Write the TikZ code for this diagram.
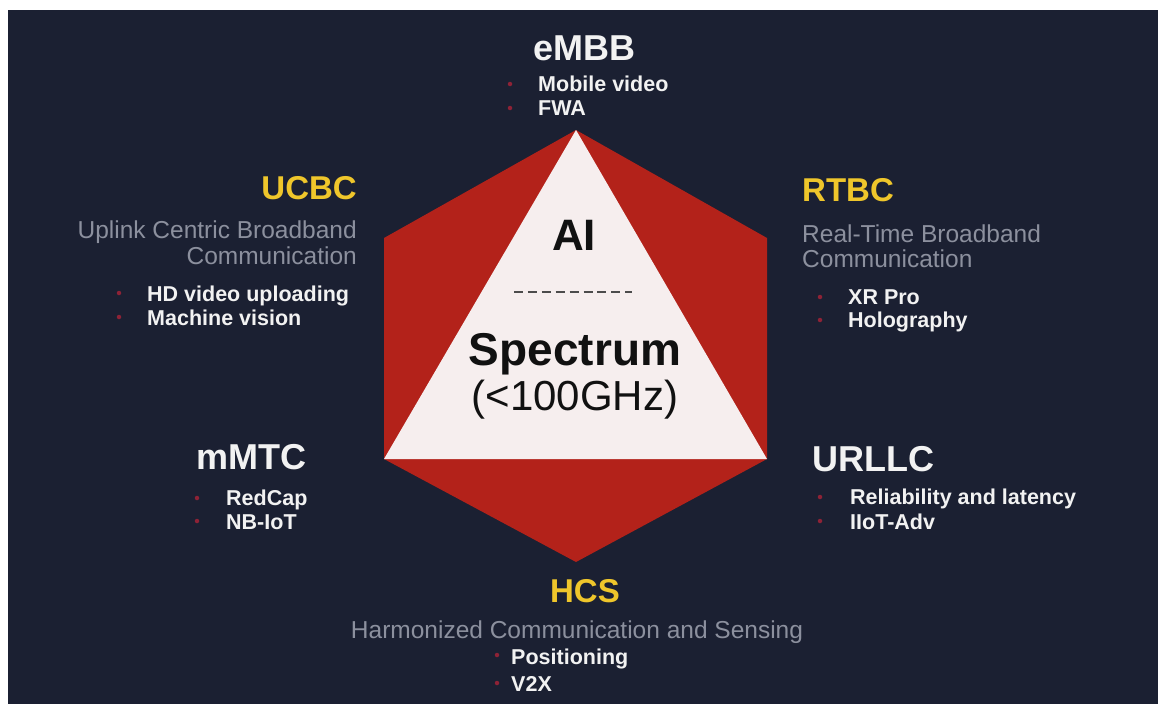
\documentclass[tikz,border=0pt]{standalone}
\usepackage{fontspec}
\setmainfont{Liberation Sans}
\definecolor{bgnavy}{HTML}{1B2032}
\definecolor{hexred}{HTML}{B3221A}
\definecolor{trifill}{HTML}{F6EEEE}
\definecolor{accentyellow}{HTML}{EFC62B}
\definecolor{subgray}{HTML}{8C909E}
\definecolor{itemwhite}{HTML}{F2F2F2}
\definecolor{dotred}{HTML}{8E2236}
\definecolor{inktext}{HTML}{111111}
\tikzset{
  ytitle/.style={font=\bfseries\fontsize{33}{36}\selectfont, inner sep=0, text=accentyellow},
  wtitle/.style={font=\bfseries\fontsize{36}{38}\selectfont, inner sep=0, text=itemwhite},
  subline/.style={font=\fontsize{24.5}{26}\selectfont, text=subgray, inner sep=0},
  itemtext/.style={font=\bfseries\fontsize{21.5}{23}\selectfont, text=itemwhite, inner sep=0, anchor=base west},
  bulletdot/.style={circle, fill=dotred, minimum size=4.5pt, inner sep=0},
  coretext/.style={text=inktext, inner sep=0, anchor=base},
}
\begin{document}
\begin{tikzpicture}[x=1pt, y=-1pt]
  % page and dark panel
  \useasboundingbox (0,0) rectangle (1158,704);
  \fill[white] (0,0) rectangle (1158,704);
  \fill[bgnavy] (8,10) rectangle (1158,704);

  % hexagon corners
  \coordinate (hT) at (576,130);
  \coordinate (hUR) at (767,238);
  \coordinate (hLR) at (767,459);
  \coordinate (hB) at (576,562);
  \coordinate (hLL) at (384,459);
  \coordinate (hUL) at (384,238);
  \fill[hexred] (hT) -- (hUR) -- (hLR) -- (hB) -- (hLL) -- (hUL) -- cycle;

  % inner triangle
  \fill[trifill] (hT) -- (hLR) -- (hLL) -- cycle;

  % triangle contents
  \node[coretext, font=\bfseries\fontsize{44}{46}\selectfont] (ai) at (574,250) {AI};
  \coordinate (dashL) at (514,292);
  \coordinate (dashR) at (632,292);
  \draw[line width=1.4pt, color=inktext!75, dash pattern=on 9pt off 4.9pt] (dashL) -- (dashR);
  \node[coretext, font=\bfseries\fontsize{46}{48}\selectfont] (spec) at (575,365) {Spectrum};
  \node[coretext, font=\fontsize{42}{44}\selectfont] (ghz) at (575,410) {(<100GHz)};

  % eMBB
  \node[wtitle, anchor=base] (embb) at (584,60) {eMBB};
  \node[bulletdot] (e1d) at (510,84) {};
  \node[itemtext] (e1) at (538,91) {Mobile video};
  \node[bulletdot] (e2d) at (510,108) {};
  \node[itemtext] (e2) at (538,115) {FWA};

  % UCBC
  \node[ytitle, anchor=base east] (ucbc) at (357,199) {UCBC};
  \node[subline, anchor=base east] (ucbc1) at (357,238) {Uplink Centric Broadband};
  \node[subline, anchor=base east] (ucbc2) at (357,264) {Communication};
  \node[bulletdot] (u1d) at (119,293) {};
  \node[itemtext] (u1) at (147,301) {HD video uploading};
  \node[bulletdot] (u2d) at (119,317) {};
  \node[itemtext] (u2) at (147,325) {Machine vision};

  % RTBC
  \node[ytitle, anchor=base west] (rtbc) at (802,201) {RTBC};
  \node[subline, anchor=base west] (rtbc1) at (802,242) {Real-Time Broadband};
  \node[subline, anchor=base west] (rtbc2) at (802,267) {Communication};
  \node[bulletdot] (r1d) at (820,297) {};
  \node[itemtext] (r1) at (848,304) {XR Pro};
  \node[bulletdot] (r2d) at (820,320) {};
  \node[itemtext] (r2) at (848,327) {Holography};

  % mMTC
  \node[wtitle, anchor=base west] (mmtc) at (196,469) {mMTC};
  \node[bulletdot] (m1d) at (197,498) {};
  \node[itemtext] (m1) at (226,505) {RedCap};
  \node[bulletdot] (m2d) at (197,521) {};
  \node[itemtext] (m2) at (226,529) {NB-IoT};

  % URLLC
  \node[wtitle, anchor=base west] (urllc) at (812,471) {URLLC};
  \node[bulletdot] (l1d) at (820,497) {};
  \node[itemtext] (l1) at (850,504) {Reliability and latency};
  \node[bulletdot] (l2d) at (820,521) {};
  \node[itemtext] (l2) at (850,529) {IIoT-Adv};

  % HCS
  \node[ytitle, anchor=base] (hcs) at (585,602) {HCS};
  \node[subline, anchor=base] (hcs1) at (577,638) {Harmonized Communication and Sensing};
  \node[bulletdot] (h1d) at (497,655) {};
  \node[itemtext] (h1) at (511,664) {Positioning};
  \node[bulletdot] (h2d) at (497,683) {};
  \node[itemtext] (h2) at (511,691) {V2X};
\end{tikzpicture}
\end{document}
